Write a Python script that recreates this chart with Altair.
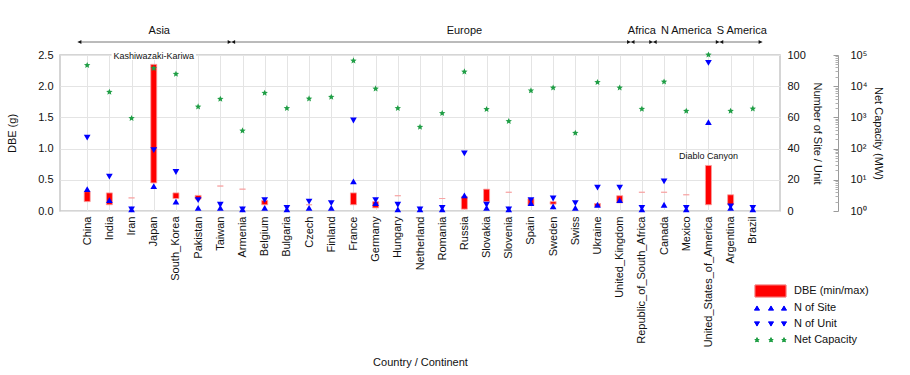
import json
import math
import altair as alt
import pandas as pd

# ---------------- data ----------------
countries = ["China", "India", "Iran", "Japan", "South_Korea", "Pakistan", "Taiwan",
             "Armenia", "Belgium", "Bulgaria", "Czech", "Finland", "France", "Germany",
             "Hungary", "Netherland", "Romania", "Russia", "Slovakia", "Slovenia", "Spain",
             "Sweden", "Swiss", "Ukraine", "United_Kingdom", "Republic_of_South_Africa",
             "Canada", "Mexico", "United_States_of_America", "Argentina", "Brazil"]
region_of = (["Asia"] * 7 + ["Europe"] * 18 + ["Africa"] + ["N America"] * 3 + ["S America"] * 2)
region_names = ["Asia", "Europe", "Africa", "N America", "S America"]
region_label_at = [3.25, 17, 25, 27, 29.5]

dbe_min = [0.15, 0.10, 0.21, 0.45, 0.20, 0.19, 0.40, 0.35, 0.10, None, 0.10, None, 0.10, 0.05,
           0.245, None, 0.20, 0.03, 0.15, 0.30, 0.09, 0.11, None, 0.07, 0.13, 0.30, 0.30,
           0.26, 0.10, 0.10, None]
dbe_max = [0.31, 0.29, 0.21, 2.35, 0.29, 0.25, 0.40, 0.35, 0.17, None, 0.10, None, 0.29, 0.15,
           0.245, None, 0.20, 0.23, 0.35, 0.30, 0.20, 0.15, None, 0.12, 0.245, 0.30, 0.30,
           0.26, 0.73, 0.26, None]
n_site = [14, 7, 1, 16, 6, 2, 2, 1, 2, 1, 2, 2, 19, 5, 1, 1, 1, 10, 2, 1, 5, 3, 2, 4, 7, 1,
          4, 1, 57, 2, 1]
n_unit = [47, 22, 1, 39, 25, 7, 4, 1, 7, 2, 6, 5, 58, 7, 4, 1, 2, 37, 4, 1, 7, 8, 5, 15, 15,
          2, 19, 2, 95, 3, 2]
net_capacity = [46800, 6500, 935, 37400, 24600, 2200, 3880, 375, 6050, 1960, 3980, 4480, 65800,
                8300, 1960, 493, 1350, 29100, 1820, 750, 7200, 8900, 316, 13300, 8900, 1860,
                13900, 1600, 102000, 1600, 1900]

annotations = ["Kashiwazaki-Kariwa", "Diablo Canyon"]
annotation_country = ["Japan", "United_States_of_America"]

legend_labels = ["DBE (min/max)", "N of Site", "N of Unit", "Net Capacity"]

# ---------------- tables ----------------
idx = list(range(len(countries)))
df = pd.DataFrame({"idx": idx, "country": countries, "dbe_min": dbe_min, "dbe_max": dbe_max,
                   "site": n_site, "unit": n_unit, "cap": net_capacity})
df_bar = df.dropna(subset=["dbe_min", "dbe_max"])

# region arrows
starts, ends = [], []
for r in region_names:
    members = [i for i, rr in enumerate(region_of) if rr == r]
    starts.append(min(members))
    ends.append(max(members))
heads = []
for k, r in enumerate(region_names):
    lt = -0.43 if k == 0 else starts[k] - 0.5
    rt = 30.43 if k == len(region_names) - 1 else ends[k] + 0.5
    heads.append({"x": lt + 0.09, "shape": "triangle-left"})
    heads.append({"x": rt - 0.09, "shape": "triangle-right"})
df_heads = pd.DataFrame(heads)
df_line = pd.DataFrame({"x0": [-0.43], "x1": [30.43]})
df_reg = pd.DataFrame({"x": region_label_at, "name": region_names})

ann_idx = [countries.index(c) for c in annotation_country]
df_ann1 = pd.DataFrame({"x": [ann_idx[0]], "x0": [ann_idx[0] - 1.9], "x1": [ann_idx[0] + 1.9],
                        "label": [annotations[0]]})
df_ann2 = pd.DataFrame({"x": [ann_idx[1]], "y": [dbe_max[ann_idx[1]]], "label": [annotations[1]]})

# ---------------- styles ----------------
FONT = "Liberation Sans"
TXT = "#111111"
GRID = "#e4e4e4"
RED = "#ff0000"
BLUE = "#0000ff"
GREEN = "#1f9e45"

pts = []
for k in range(10):
    rr = 1.0 if k % 2 == 0 else 0.45
    a = math.radians(-90 + 36 * k)
    pts.append((rr * math.cos(a), rr * math.sin(a)))
STAR = "M" + " L".join(f"{x:.3f},{y:.3f}" for x, y in pts) + " Z"

xscale = alt.Scale(domain=[-1, 31], nice=False, zero=False)
xaxis = alt.Axis(values=idx, labelExpr=f"{json.dumps(countries)}[datum.value]",
                 labelAngle=-90, labelFontSize=11, labelColor=TXT, labelPadding=5,
                 labelOverlap=False, labelFlush=False, ticks=False, tickSize=0, domain=False,
                 grid=True, gridColor=GRID, gridWidth=1,
                 title="Country / Continent", titleFontSize=11, titleFontWeight="normal",
                 titleColor=TXT, titleX=360, titleY=151, titleBaseline="middle",
                 titleAlign="center")


def X(field):
    return alt.X(field, type="quantitative", scale=xscale, axis=xaxis)


dbe_scale = alt.Scale(domain=[0, 2.5], nice=False, zero=True)
cap_scale = alt.Scale(type="log", domain=[1, 100000], nice=False)
cnt_scale = alt.Scale(domain=[0, 100], nice=False)

# ---------------- layers ----------------
bars = alt.Chart(df_bar).mark_bar(size=6, color=RED, stroke="#f7a0a0", strokeWidth=0.8).encode(
    x=X("idx"),
    y=alt.Y("dbe_max:Q", scale=dbe_scale,
            axis=alt.Axis(orient="left", values=[0, 0.5, 1.0, 1.5, 2.0, 2.5], format=".1f",
                          ticks=False, tickSize=0, domain=False, grid=True, gridColor=GRID,
                          labelFontSize=11, labelColor=TXT, labelPadding=7, labelFlush=False,
                          title="DBE (g)", titleFontSize=11, titleFontWeight="normal",
                          titleColor=TXT, titleX=-48, titleY=78, titleBaseline="middle",
                          titleAlign="center", titleAngle=-90)),
    y2="dbe_min:Q",
)

tri = alt.Chart(df).transform_fold(["site", "unit"], as_=["kind", "count"]).mark_point(
    filled=True, size=45, color=BLUE, opacity=1).encode(
    x=X("idx"),
    y=alt.Y("count:Q", scale=cnt_scale,
            axis=alt.Axis(orient="right", values=[0, 20, 40, 60, 80, 100], ticks=False,
                          tickSize=0, domain=False, grid=False, labelFontSize=11,
                          labelColor=TXT, labelPadding=7, labelFlush=False,
                          title="Number of Site / Unit", titleFontSize=11,
                          titleFontWeight="normal", titleColor=TXT, titleX=36, titleY=78,
                          titleBaseline="middle", titleAlign="center", titleAngle=90)),
    shape=alt.Shape("kind:N", scale=alt.Scale(domain=["site", "unit"],
                                              range=["triangle-up", "triangle-down"]),
                    legend=None),
)

sup = "['\u2070','\u00b9','\u00b2','\u00b3','\u2074','\u2075']"
stars = alt.Chart(df).mark_point(shape=STAR, filled=True, size=45, color=GREEN,
                                 opacity=1).encode(
    x=X("idx"),
    y=alt.Y("cap:Q", scale=cap_scale,
            axis=alt.Axis(orient="right", offset=58, values=[1, 10, 100, 1000, 10000, 100000],
                          labelExpr=f"'10' + {sup}[round(log(datum.value)/LN10)]",
                          ticks=False, tickSize=0, domain=True, domainColor="#9a9a9a",
                          domainWidth=1, grid=False, labelFontSize=11, labelColor=TXT,
                          labelPadding=12, labelFlush=False,
                          title="Net Capacity (MW)", titleFontSize=11,
                          titleFontWeight="normal", titleColor=TXT, titleX=39, titleY=78,
                          titleBaseline="middle", titleAlign="center", titleAngle=90)),
)

major_ticks = alt.Chart(df).mark_point(opacity=0).encode(
    x=X("idx"),
    y=alt.Y("cap:Q", scale=cap_scale,
            axis=alt.Axis(orient="right", offset=53, values=[1, 10, 100, 1000, 10000, 100000],
                          labels=False, domain=False, ticks=True, tickSize=5,
                          tickColor="#9a9a9a", grid=False, title=None)),
)
minor_vals = [m * 10 ** e for e in range(5) for m in range(2, 10)]
minor_ticks = alt.Chart(df).mark_point(opacity=0).encode(
    x=X("idx"),
    y=alt.Y("cap:Q", scale=cap_scale,
            axis=alt.Axis(orient="right", offset=55, values=minor_vals,
                          labels=False, domain=False, ticks=True, tickSize=3,
                          tickColor="#b0b0b0", grid=False, title=None)),
)

# annotations
kk_box = alt.Chart(df_ann1).mark_rect(color="white").encode(
    x=X("x0"), x2="x1", y=alt.value(-4), y2=alt.value(5))
kk_text = alt.Chart(df_ann1).mark_text(fontSize=9, color=TXT, baseline="middle",
                                       font=FONT).encode(
    x=X("x"), y=alt.value(1), text="label:N")
dc_text = alt.Chart(df_ann2).mark_text(fontSize=9, color=TXT, baseline="middle", dy=-9,
                                       font=FONT).encode(
    x=X("x"), y=alt.Y("y:Q", scale=dbe_scale, axis=None), text="label:N")

reg_line = alt.Chart(df_line).mark_rule(color="#777777", strokeWidth=1).encode(
    x=X("x0"), x2="x1", y=alt.value(-13))
reg_heads = alt.Chart(df_heads).mark_point(filled=True, size=16, color="#111111",
                                           opacity=1).encode(
    x=X("x"), y=alt.value(-13), shape=alt.Shape("shape:N", scale=None))
reg_text = alt.Chart(df_reg).mark_text(fontSize=11, color=TXT, baseline="middle",
                                       font=FONT).encode(
    x=X("x"), y=alt.value(-24), text="name:N")

# manual legend (bottom right)
leg_layers = []
leg_df = pd.DataFrame({"label": legend_labels})
leg_layers.append(alt.Chart(leg_df).mark_rect(color=RED, stroke="#f7a0a0", strokeWidth=0.8).encode(
    x=alt.value(695), x2=alt.value(726), y=alt.value(230), y2=alt.value(242)))
for row, (shape, col) in enumerate([("triangle-up", BLUE), ("triangle-down", BLUE),
                                    (STAR, GREEN)]):
    for sx in (697, 711, 724):
        leg_layers.append(alt.Chart(leg_df).mark_point(
            shape=shape, filled=True, size=30 if shape != STAR else 28, color=col,
            opacity=1).encode(x=alt.value(sx), y=alt.value(253 + 16 * row)))
for row, lab in enumerate(legend_labels):
    leg_layers.append(alt.Chart(pd.DataFrame({"t": [lab]})).mark_text(
        fontSize=11, color=TXT, align="left", baseline="middle", font=FONT).encode(
        x=alt.value(734), y=alt.value(236 + [0, 17, 33, 49][row]), text="t:N"))

chart = alt.layer(
    bars, tri, stars, major_ticks, minor_ticks, kk_box, kk_text, dc_text,
    reg_line, reg_heads, reg_text, *leg_layers
).resolve_scale(y="independent").properties(
    width=720, height=156,
    autosize=alt.AutoSizeParams(type="none"),
    padding={"left": 60, "top": 55, "right": 130, "bottom": 164},
).configure(font=FONT).configure_view(stroke="#c8c8c8", strokeWidth=1.5)

chart.save("out.html", embed_options={"renderer": "svg", "actions": False})
